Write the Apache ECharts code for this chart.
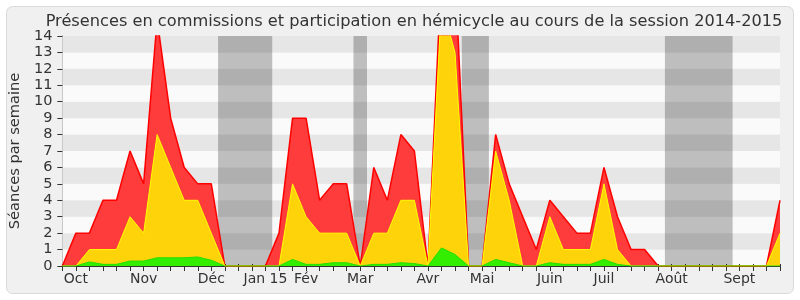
<!DOCTYPE html>
<html>
<head>
<meta charset="utf-8">
<script src="https://cdn.jsdelivr.net/npm/echarts@6/dist/echarts.min.js"></script>
<style>
html,body{margin:0;padding:0;background:#ffffff;}
#chart{width:800px;height:300px;}
</style>
</head>
<body>
<div id="chart"></div>
<script>
// Weekly values (index 0..53), session 2014-2015
const presences = [0,2,2,4,4,7,5,15,9,6,5,5,0,0,0,0,2,9,9,4,5,5,0,6,4,8,7,0,18,18,0,0,8,5,3,1,4,3,2,2,6,3,1,1,0,0,0,0,0,0,0,0,0,4];
const participations = [0,0,1,1,1,3,2,8,6,4,4,2,0,0,0,0,0,5,3,2,2,2,0,2,2,4,4,0,16,13,0,0,7,4,0,0,3,1,1,1,5,1,0,0,0,0,0,0,0,0,0,0,0,2];
const hemicycle = [0,0,0.25,0.1,0.1,0.3,0.3,0.5,0.5,0.5,0.55,0.35,0,0,0,0,0,0.4,0.1,0.1,0.2,0.2,0,0.1,0.1,0.2,0.15,0,1.1,0.7,0,0,0.4,0.2,0,0,0.2,0.1,0.1,0.1,0.4,0.1,0,0,0,0,0,0,0,0,0,0,0,0];
// Month tick labels (week index where label is shown)
const monthWeeks = [1,6,11,15,18,22,27,31,36,40,45,50];
const monthNames = ['Oct','Nov','Déc','Jan 15','Fév','Mar','Avr','Mai','Juin','Juil','Août','Sept'];
// Parliamentary vacation periods (week index ranges)
const vacStart = [11.5,21.5,29.5,44.5];
const vacEnd = [15.5,22.5,31.5,49.5];

const toPairs = arr => arr.map((v,i)=>[i,v]);
const font = 'DejaVu Sans';

const chart = echarts.init(document.getElementById('chart'), null, {renderer:'canvas'});
chart.setOption({
  animation:false,
  backgroundColor:'#ffffff',
  graphic:[{
    type:'rect', z:-10, silent:true,
    shape:{x:6.5,y:6.5,width:787,height:287,r:6},
    style:{fill:'#f0f0f0',stroke:'#dadada',lineWidth:1}
  }],
  title:{
    text:'Présences en commissions et participation en hémicycle au cours de la session 2014-2015',
    left:409, top:9, textAlign:'center',
    textStyle:{fontFamily:font,fontSize:16.2,fontWeight:'normal',color:'#333333'}
  },
  grid:{left:61,right:20,top:36,bottom:34},
  xAxis:[{
    type:'value', min:0, max:53, interval:1, position:'bottom',
    axisLine:{show:true,onZero:false,lineStyle:{color:'#333333',width:1}},
    axisTick:{show:true,length:5,lineStyle:{color:'#333333'}},
    axisLabel:{
      fontFamily:font,fontSize:14,color:'#333333',margin:6,
      showMinLabel:true,showMaxLabel:true,
      formatter:function(v){const k=monthWeeks.indexOf(Math.round(v));return k>=0?monthNames[k]:'';}
    },
    splitLine:{show:false}
  },{
    type:'value', min:0, max:53, interval:1, position:'top',
    axisLine:{show:false},
    axisTick:{show:true,length:2,lineStyle:{color:'#333333'}},
    axisLabel:{show:false},
    splitLine:{show:false}
  }],
  yAxis:[{
    type:'value', min:0, max:14, interval:1,
    name:'Séances par semaine', nameLocation:'middle', nameGap:35,
    nameTextStyle:{fontFamily:font,fontSize:14.6,color:'#333333'},
    axisLine:{show:true,lineStyle:{color:'#333333',width:1}},
    axisTick:{show:true,length:5,lineStyle:{color:'#333333'}},
    axisLabel:{fontFamily:font,fontSize:14.5,color:'#333333',margin:10},
    splitLine:{show:false},
    splitArea:{show:true,areaStyle:{color:['#fafafa','#e6e6e6']}}
  },{
    type:'value', min:0, max:14, interval:1, position:'right',
    axisLine:{show:true,lineStyle:{color:'#c8c8c8',width:1}},
    axisTick:{show:false},axisLabel:{show:false},splitLine:{show:false}
  }],
  series:[{
    name:'vacances', type:'line', z:1, silent:true,
    data:[[0,null]], showSymbol:false,
    markArea:{
      silent:true,
      itemStyle:{color:'rgba(0,0,0,0.24)'},
      data: vacStart.map((s,i)=>[{xAxis:s},{xAxis:vacEnd[i]}])
    }
  },{
    name:'Présences', type:'line', z:2, data:toPairs(presences),
    showSymbol:false, symbol:'none', clip:true,
    lineStyle:{color:'#ff0000',width:1.5},
    areaStyle:{color:'#ff3c3c',opacity:1}
  },{
    name:'Participations', type:'line', z:3, data:toPairs(participations),
    showSymbol:false, symbol:'none', clip:true,
    lineStyle:{color:'#ffff00',width:1},
    areaStyle:{color:'#ffd30a',opacity:1}
  },{
    name:'Hémicycle', type:'line', z:4, data:toPairs(hemicycle),
    showSymbol:false, symbol:'none', clip:true,
    lineStyle:{color:'#22dd00',width:1},
    areaStyle:{color:'#33ee00',opacity:1}
  }]
});
</script>
</body>
</html>
